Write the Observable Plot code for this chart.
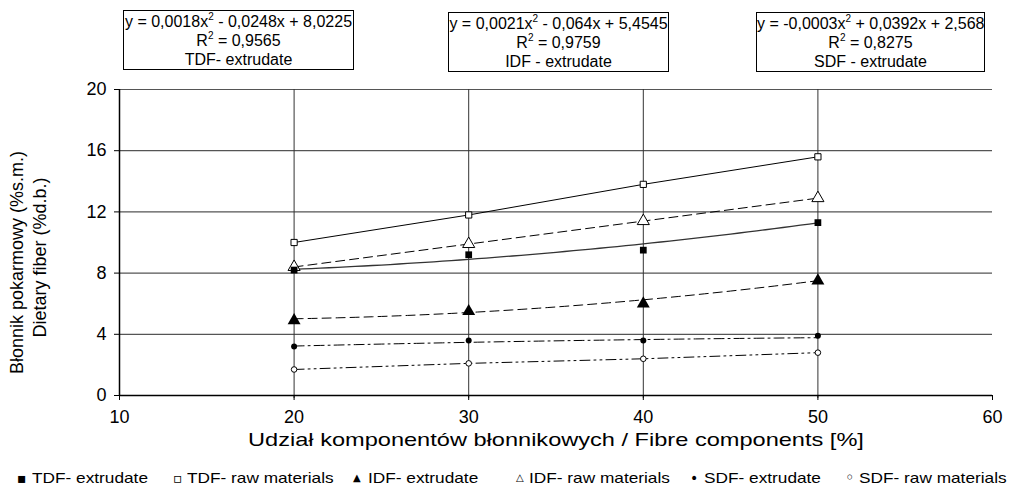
<!DOCTYPE html>
<html><head><meta charset="utf-8">
<script src="https://cdn.jsdelivr.net/npm/d3@7"></script>
<script src="https://cdn.jsdelivr.net/npm/@observablehq/plot@0.6"></script>
<style>
body{margin:0;background:#fff;font-family:"Liberation Sans",Arial,sans-serif;color:#000;}
#wrap{position:relative;width:1012px;height:493px;overflow:hidden;}
.eq{position:absolute;border:1px solid #000;background:#fff;text-align:center;font-size:16px;line-height:19px;box-sizing:border-box;padding-top:1px;white-space:nowrap;}
.eq sup{font-size:10px;line-height:0;vertical-align:7px;}
.leg{position:absolute;top:469px;font-size:15px;white-space:nowrap;line-height:18px;transform:scaleX(1.15);transform-origin:0 0;}
.sym{position:absolute;top:469px;font-family:"DejaVu Sans";line-height:18px;}
</style></head><body>
<div id="wrap"></div>
<script>
// ---- data ----
const fibre = [20, 30, 40, 50];
const tdfExtrudate = [8.2, 9.2, 9.5, 11.3];
const tdfRaw = [10.0, 11.8, 13.8, 15.6];
const idfExtrudate = [4.9, 5.5, 6.0, 7.5];
const idfRaw = [8.4, 9.9, 11.4, 12.9];
const sdfExtrudate = [3.2, 3.6, 3.6, 3.9];
const sdfRaw = [1.7, 2.1, 2.4, 2.8];
// trend-line coefficients as printed in the boxes (a, b, c for a*x^2 + b*x + c)
const tdfFit = [0.0018, -0.0248, 8.0225];
const idfFit = [0.0021, -0.064, 5.4545];
const sdfFit = [-0.0003, 0.0392, 2.568];
const fitR2 = ["0,9565", "0,9759", "0,8275"];
const fitEq = ["y = 0,0018x<sup>2</sup> - 0,0248x + 8,0225", "y = 0,0021x<sup>2</sup> - 0,064x + 5,4545", "y = -0,0003x<sup>2</sup> + 0,0392x + 2,568"];
const fitName = ["TDF- extrudate", "IDF - extrudate", "SDF - extrudate"];
const xTicks = [10, 20, 30, 40, 50, 60];
const yTicks = [0, 4, 8, 12, 16, 20];
const seriesNames = ["TDF- extrudate", "TDF- raw materials", "IDF- extrudate", "IDF- raw materials", "SDF- extrudate", "SDF- raw materials"];
const xTitle = "Udział komponentów błonnikowych / Fibre components [%]";
const yTitle1 = "Błonnik pokarmowy (%s.m.)";
const yTitle2 = "Dietary fiber (%d.b.)";

const pts = (ys) => fibre.map((x, i) => ({x, y: ys[i]}));
const fitLine = (c) => d3.range(fibre[0], fibre[fibre.length - 1] + 0.01, 0.5).map(x => ({x, y: c[0]*x*x + c[1]*x + c[2]}));

const plot = Plot.plot({
  width: 1012, height: 493,
  marginLeft: 119, marginRight: 20, marginTop: 89, marginBottom: 98,
  style: {fontFamily: "Liberation Sans, Arial, sans-serif", fontSize: "18px", background: "#fff", color: "#000"},
  x: {domain: [10, 60], ticks: xTicks, label: null},
  y: {domain: [0, 20], ticks: yTicks, label: null},
  marks: [
    Plot.ruleY(yTicks.filter(d => d > 0), {stroke: "#555", strokeWidth: 1.2, strokeOpacity: 1}),
    Plot.ruleX(fibre, {y1: -0.2, y2: 20, stroke: "#333", strokeWidth: 1, strokeOpacity: 1}),
    Plot.axisX({ticks: xTicks, tickSize: 5, tickPadding: 10, fontSize: 18, label: null}),
    Plot.axisY({ticks: yTicks, tickSize: 5, tickPadding: 8, fontSize: 18, label: null}),
    Plot.ruleY([0], {stroke: "#000", strokeWidth: 1.5}),
    Plot.ruleX([10], {stroke: "#000", strokeWidth: 1.5}),
    // lines
    Plot.line(pts(tdfRaw), {x: "x", y: "y", stroke: "#000", strokeWidth: 1}),
    Plot.line(fitLine(tdfFit), {x: "x", y: "y", stroke: "#333", strokeWidth: 1.3}),
    Plot.line(pts(idfRaw), {x: "x", y: "y", stroke: "#000", strokeWidth: 1, strokeDasharray: "9,5"}),
    Plot.line(fitLine(idfFit), {x: "x", y: "y", stroke: "#000", strokeWidth: 1, strokeDasharray: "9,5"}),
    Plot.line(fitLine(sdfFit), {x: "x", y: "y", stroke: "#000", strokeWidth: 1, strokeDasharray: "10,4,2,4"}),
    Plot.line(pts(sdfRaw), {x: "x", y: "y", stroke: "#000", strokeWidth: 1, strokeDasharray: "10,4,2,4,2,4"}),
    // markers
    Plot.dot(pts(tdfRaw), {x: "x", y: "y", symbol: "square", r: 3.5, fill: "#fff", stroke: "#000", strokeWidth: 1}),
    Plot.dot(pts(idfRaw), {x: "x", y: "y", symbol: "triangle", r: 4.5, fill: "#fff", stroke: "#000", strokeWidth: 1}),
    Plot.dot(pts(tdfExtrudate), {x: "x", y: "y", symbol: "square", r: 3.8, fill: "#000", stroke: "none"}),
    Plot.dot(pts(idfExtrudate), {x: "x", y: "y", symbol: "triangle", r: 4.8, fill: "#000", stroke: "none"}),
    Plot.dot(pts(sdfExtrudate), {x: "x", y: "y", symbol: "circle", r: 3, fill: "#000", stroke: "none"}),
    Plot.dot(pts(sdfRaw), {x: "x", y: "y", symbol: "circle", r: 2.8, fill: "#fff", stroke: "#000", strokeWidth: 1}),
    // axis titles
    Plot.text([xTitle], {frameAnchor: "bottom", dy: 50, fontSize: 19, fill: "#000"}),
    Plot.text([yTitle1], {frameAnchor: "left", dx: -102, dy: 20, rotate: -90, textAnchor: "middle", fontSize: 18, fill: "#000"}),
    Plot.text([yTitle2], {frameAnchor: "left", dx: -79, dy: 15, rotate: -90, textAnchor: "middle", fontSize: 18, fill: "#000"})
  ]
});
const wrap = document.getElementById("wrap");
wrap.appendChild(plot);
// the reference renders the x title wide: scale its glyphs horizontally to the measured width
const xt = Array.from(plot.querySelectorAll("text")).find(t => t.textContent === xTitle);
if (xt) {
  const w = xt.getComputedTextLength();
  const f = w > 0 ? 616 / w : 1;
  const tr = xt.getAttribute("transform") || "";
  xt.setAttribute("transform", tr + " scale(" + f + ",1)");
}

// equation boxes
const boxes = [[123, 10, 231, 60], [448, 12, 221, 60], [756, 12, 229, 60]];
boxes.forEach((b, i) => {
  const d = document.createElement("div");
  d.className = "eq";
  d.style.left = b[0] + "px"; d.style.top = b[1] + "px"; d.style.width = b[2] + "px"; d.style.height = b[3] + "px";
  d.innerHTML = fitEq[i] + "<br>R<sup>2</sup> = " + fitR2[i] + "<br>" + fitName[i];
  wrap.appendChild(d);
});

// legend
const legSym = ["▪", "▫", "▲", "△", "•", "◦"];
const legSymSize = [14, 14, 10, 10, 14, 16];
const legSymX = [17, 173, 353, 516, 690, 845];
const legTextX = [32, 187, 368, 529, 704, 859];
seriesNames.forEach((n, i) => {
  const s = document.createElement("div");
  s.className = "sym"; s.textContent = legSym[i];
  s.style.left = legSymX[i] + "px"; s.style.fontSize = legSymSize[i] + "px";
  wrap.appendChild(s);
  const t = document.createElement("div");
  t.className = "leg"; t.textContent = n; t.style.left = legTextX[i] + "px";
  wrap.appendChild(t);
});
</script>
</body></html>
